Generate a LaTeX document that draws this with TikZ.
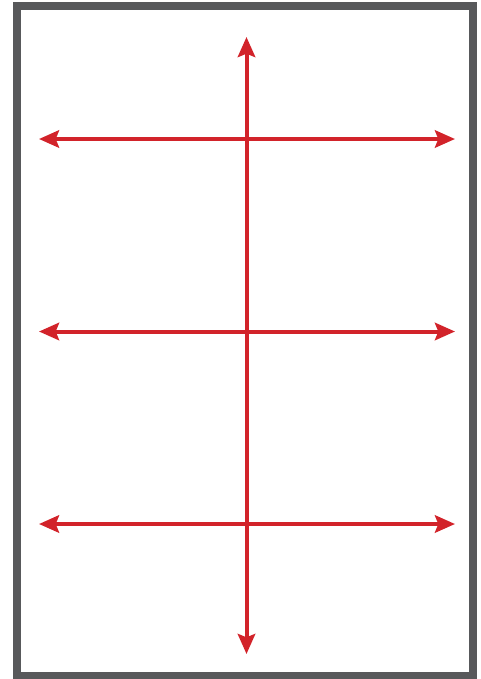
\documentclass[tikz,border=0pt]{standalone}
\usetikzlibrary{arrows.meta}
\definecolor{frameGray}{HTML}{58595B}
\definecolor{arrowRed}{HTML}{D2232A}
\tikzset{
  frame/.style={draw=frameGray, line width=6pt},
  guide/.style={draw=arrowRed, line width=3pt,
    {Stealth[length=15pt, width=13pt, inset=2.5pt]}-{Stealth[length=15pt, width=13pt, inset=2.5pt]}}
}
\begin{document}
\begin{tikzpicture}[x=0.75pt, y=-0.75pt]
\useasboundingbox (0,0) rectangle (481,679);

% Border
\draw[frame] (16.5,6) rectangle (472.5,676);

% Vertical arrow
\coordinate (top) at (246.5,37);
\coordinate (bottom) at (246.5,654);
\draw[guide] (top) -- (bottom);

% Horizontal arrows
\foreach \y [count=\n from 1] in {139, 331.5, 524} {
  \coordinate (left\n) at (39,\y);
  \coordinate (right\n) at (455,\y);
  \draw[guide] (left\n) -- (right\n);
}
\end{tikzpicture}
\end{document}
